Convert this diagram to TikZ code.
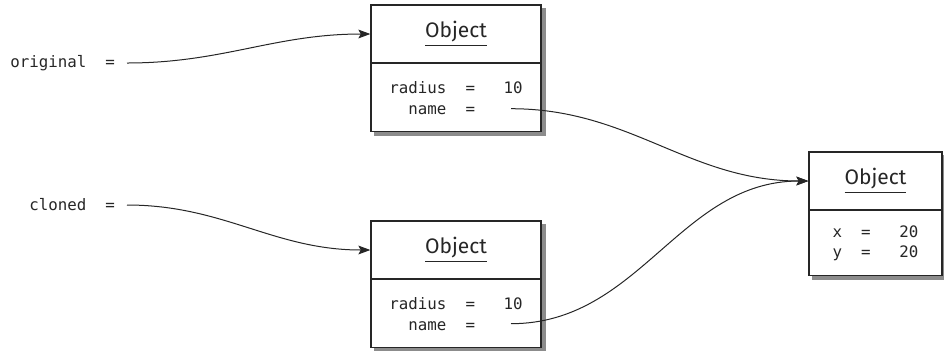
\documentclass[tikz,border=0pt]{standalone}
\usepackage{fontspec}
\setsansfont{Fira Sans}
\setmonofont{DejaVu Sans Mono}
\usetikzlibrary{arrows.meta,positioning,calc,backgrounds}

\begin{document}
\begin{tikzpicture}[
  x=0.5pt, y=-0.5pt,
  hdr/.style={
    draw=black!85, fill=white, line width=0.65pt, minimum width=85pt,
    minimum height=29pt, inner sep=0pt, text=black!85,
    font=\sffamily\fontsize{10.5}{12}\selectfont},
  fields/.style={
    draw=black!85, fill=white, line width=0.65pt, minimum width=85pt,
    minimum height=34pt, inner sep=0pt, align=left, text=black!85,
    font=\ttfamily\fontsize{7.9}{10.5}\selectfont},
  ref/.style={inner sep=0pt, outer xsep=6pt, anchor=east, text=black!85,
    font=\ttfamily\fontsize{7.9}{10.5}\selectfont},
  shadow/.style={fill=black!45},
  link/.style={line width=0.5pt, draw=black!85},
  arr/.style={link, -{Stealth[length=6pt,width=4.4pt,inset=1.2pt]}}
]
\useasboundingbox (0,0) rectangle (944,350);

% original and its clone
\node[hdr] (obja) at (456,34) {\underline{Object}};
\node[fields, below=-0.3pt of obja] (obja-f)
  {radius~~=~~~10\\\hphantom{ra}name~~=};

\node[hdr] (objb) at (456,250) {\underline{Object}};
\node[fields, below=-0.3pt of objb] (objb-f)
  {radius~~=~~~10\\\hphantom{ra}name~~=};

% the shared object
\node[hdr, minimum width=66.5pt] (objc) at (875.5,181) {\underline{Object}};
\node[fields, minimum width=66.5pt, minimum height=32.5pt,
  font=\ttfamily\fontsize{7.9}{10}\selectfont, below=-0.3pt of objc] (objc-f)
  {x~~=~~~20\\y~~=~~~20};

\begin{scope}[on background layer]
  \foreach \o in {obja,objb,objc}
    \fill[shadow] ($(\o.north west)+(4,4)$) rectangle ($(\o-f.south east)+(4,4)$);
\end{scope}

% variables
\node[ref] (orig) at (127,63) {original~~=};
\node[ref] (clone) at (127,205) {cloned~~=};

\coordinate (obja-p) at ($(obja-f.center)+(55,11)$);
\coordinate (objb-p) at ($(objb-f.center)+(55,10)$);

\draw[arr] (orig) to[out=0, in=180] (obja.west);
\draw[arr] (clone) to[out=0, in=180] (objb.west);
\draw[arr] (obja-p) to[out=0, in=180] (objc.west);
\draw[arr] (objb-p) to[out=0, in=180] (objc.west);

\end{tikzpicture}
\end{document}
